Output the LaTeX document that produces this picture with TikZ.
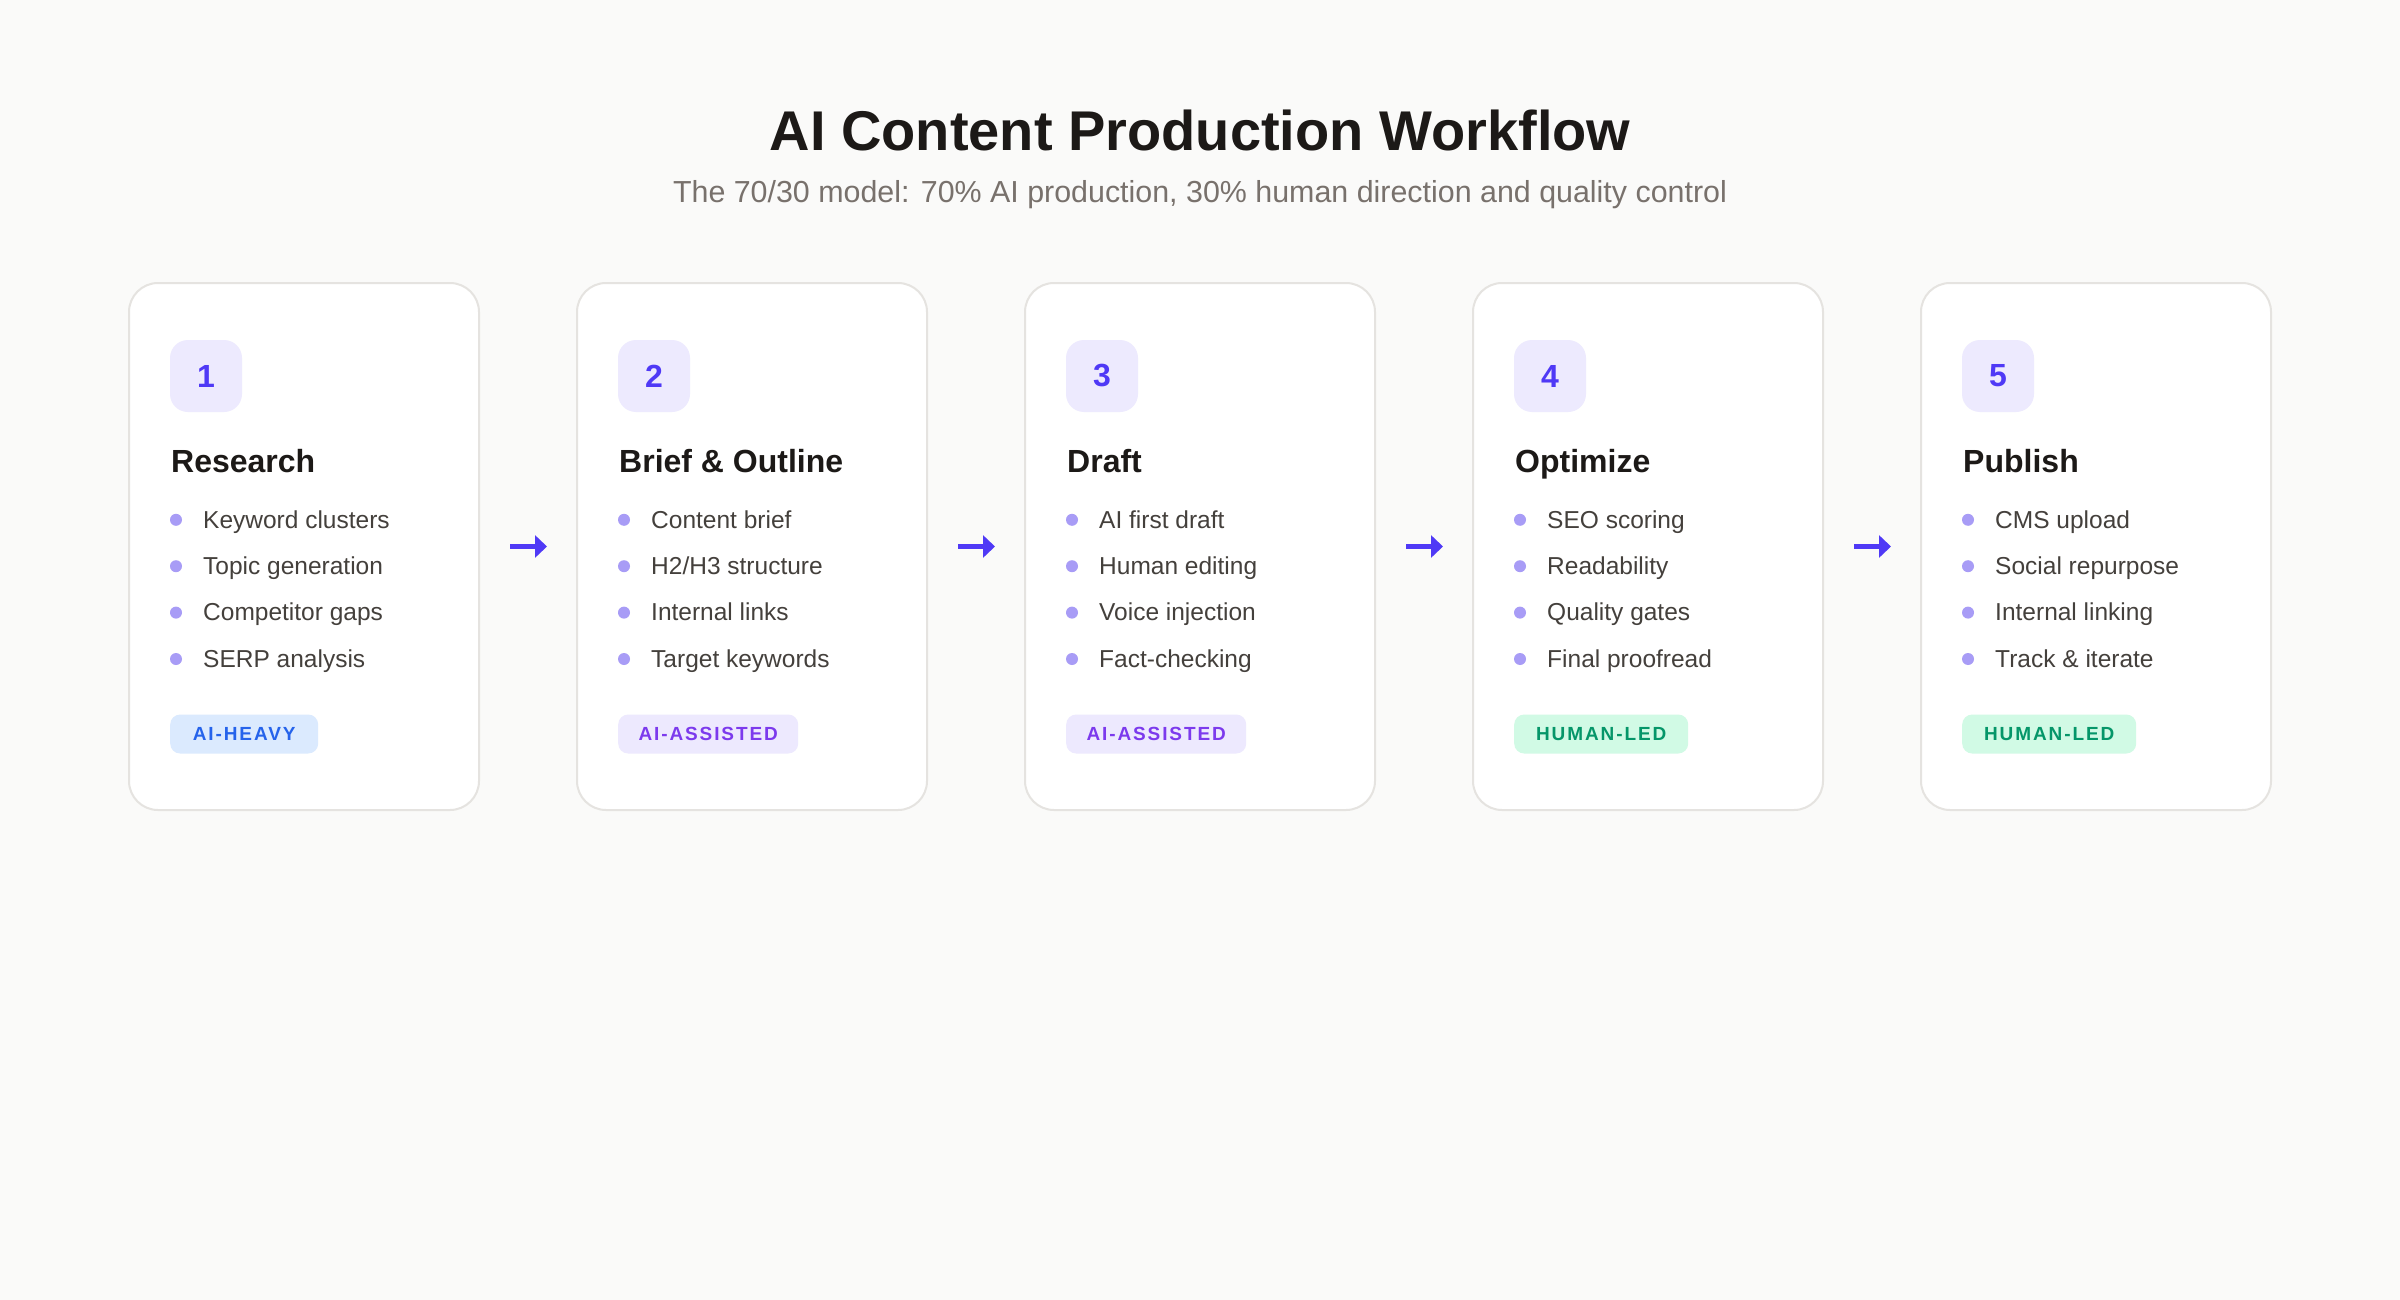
\documentclass[tikz,border=0pt]{standalone}
\usepackage{fontspec}
\setmainfont{Liberation Sans}
\usetikzlibrary{arrows.meta}
\definecolor{bg}{HTML}{FAFAF9}
\definecolor{cardline}{HTML}{E5E3E0}
\definecolor{ink}{HTML}{1C1917}
\definecolor{subink}{HTML}{78716C}
\definecolor{itemink}{HTML}{44403C}
\definecolor{indigo}{HTML}{4F39F6}
\definecolor{badgebg}{HTML}{EDEAFE}
\definecolor{dotcol}{HTML}{A89CF6}
\definecolor{heavybg}{HTML}{DBEAFE}
\definecolor{heavyfg}{HTML}{2563EB}
\definecolor{assistbg}{HTML}{EDE9FE}
\definecolor{assistfg}{HTML}{7C3AED}
\definecolor{humanbg}{HTML}{D1FAE5}
\definecolor{humanfg}{HTML}{059669}
\tikzset{
  cardbox/.style={draw=cardline, line width=2pt, fill=white, rounded corners=29pt,
    minimum width=350pt, minimum height=527pt, inner sep=0pt},
  numbadge/.style={fill=badgebg, rounded corners=18pt, minimum width=72pt,
    minimum height=72pt, inner sep=0pt, text=indigo,
    font=\bfseries\fontsize{32}{36}\selectfont},
  cardtitle/.style={anchor=base west, inner sep=0pt, text=ink,
    font=\bfseries\fontsize{32}{36}\selectfont},
  itemtext/.style={anchor=base west, inner sep=0pt, text=itemink,
    font=\fontsize{24.5}{28}\selectfont},
  dotnode/.style={circle, fill=dotcol, minimum size=12pt, inner sep=0pt},
  tagbase/.style={anchor=west, rounded corners=10pt, minimum height=39pt, inner sep=0pt,
    font=\bfseries\fontsize{19}{21}\selectfont\addfontfeature{LetterSpace=10}},
  tagheavy/.style={tagbase, fill=heavybg, text=heavyfg, minimum width=148pt},
  tagassist/.style={tagbase, fill=assistbg, text=assistfg, minimum width=180pt},
  taghuman/.style={tagbase, fill=humanbg, text=humanfg, minimum width=174pt},
  flowarrow/.style={draw=indigo, line width=5.5pt,
    -{Triangle[length=12pt,width=22pt]}, shorten <=30pt, shorten >=29pt},
}
\newcommand\cardline[4]{%
  \node[dotnode] (dot#1-#2) at (#3+47,519.8+46.4*#2) {};
  \node[itemtext] (item#1-#2) at (#3+74,528+46.4*#2) {#4};
}
\newcommand\stepcard[9]{%
  \pgfmathsetmacro\cx{129+448*#1}
  \node[cardbox] (card#2) at (\cx+175,546.5) {};
  \node[numbadge] (num#2) at (\cx+77,376) {#2};
  \node[cardtitle] (title#2) at (\cx+42,472.5) {#3};
  \cardline{#2}{0}{\cx}{#4}
  \cardline{#2}{1}{\cx}{#5}
  \cardline{#2}{2}{\cx}{#6}
  \cardline{#2}{3}{\cx}{#7}
  \node[#9] (tag#2) at (\cx+41,734) {#8};
}
\begin{document}
\begin{tikzpicture}[x=1pt,y=-1pt]
\fill[bg] (0,0) rectangle (2400,1300);
\node[anchor=base, inner sep=0pt, text=ink, font=\bfseries\fontsize{56}{60}\selectfont]
  (maintitle) at (1200,151) {AI Content Production Workflow};
\node[anchor=base, inner sep=0pt, text=subink, font=\fontsize{30.4}{34}\selectfont]
  (subtitle) at (1200,203) {The 70/30 model: 70\% AI production, 30\% human direction and quality control};
\stepcard{0}{1}{Research}{Keyword clusters}{Topic generation}{Competitor gaps}{SERP analysis}{AI-HEAVY}{tagheavy}
\stepcard{1}{2}{Brief \& Outline}{Content brief}{H2/H3 structure}{Internal links}{Target keywords}{AI-ASSISTED}{tagassist}
\stepcard{2}{3}{Draft}{AI first draft}{Human editing}{Voice injection}{Fact-checking}{AI-ASSISTED}{tagassist}
\stepcard{3}{4}{Optimize}{SEO scoring}{Readability}{Quality gates}{Final proofread}{HUMAN-LED}{taghuman}
\stepcard{4}{5}{Publish}{CMS upload}{Social repurpose}{Internal linking}{Track \& iterate}{HUMAN-LED}{taghuman}
\foreach \a/\b in {1/2,2/3,3/4,4/5}
  \draw[flowarrow] (card\a.east) -- (card\b.west);
\end{tikzpicture}
\end{document}
